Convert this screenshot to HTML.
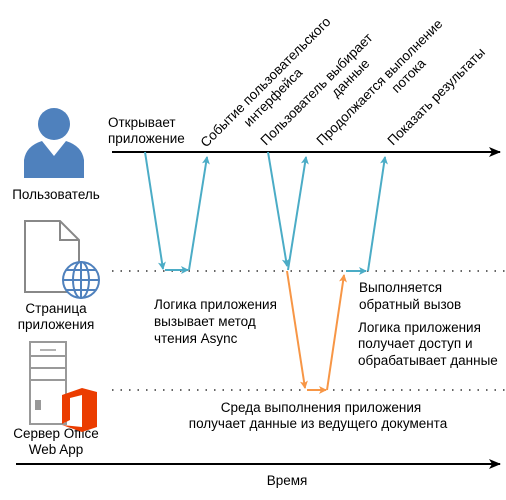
<!DOCTYPE html>
<html><head><meta charset="utf-8"><style>
body{margin:0;background:#fff}
svg{display:block}
text{font-family:"Liberation Sans","DejaVu Sans",sans-serif;font-size:13.5px;fill:#000}
</style></head><body>
<svg width="506" height="500" viewBox="0 0 506 500">
<defs>
<marker id="ab" markerWidth="8" markerHeight="8" refX="7" refY="4" orient="auto" markerUnits="userSpaceOnUse"><path d="M0,0 L8,4 L0,8 L2,4z" fill="#4bacc6"/></marker>
<marker id="ao" markerWidth="8" markerHeight="8" refX="7" refY="4" orient="auto" markerUnits="userSpaceOnUse"><path d="M0,0 L8,4 L0,8 L2,4z" fill="#f79646"/></marker>
<marker id="ak" markerWidth="12" markerHeight="10" refX="11" refY="5" orient="auto" markerUnits="userSpaceOnUse"><path d="M0,0 L12,5 L0,10 L3,5z" fill="#000"/></marker>
</defs>
<line x1="112" y1="152" x2="500" y2="152" stroke="#000" stroke-width="2" marker-end="url(#ak)"/>
<line x1="16" y1="464" x2="500" y2="464" stroke="#000" stroke-width="2" marker-end="url(#ak)"/>
<line x1="112" y1="271" x2="506" y2="271" stroke="#333" stroke-width="1.5" stroke-dasharray="1.5,7"/>
<line x1="112" y1="390" x2="506" y2="390" stroke="#333" stroke-width="1.5" stroke-dasharray="1.5,7"/>
<g stroke="#4bacc6" stroke-width="2" fill="none">
<line x1="145" y1="152" x2="163" y2="269" marker-end="url(#ab)"/>
<line x1="165" y1="270" x2="188" y2="270" marker-end="url(#ab)"/>
<line x1="189" y1="270" x2="207" y2="157" marker-end="url(#ab)"/>
<line x1="268" y1="152" x2="287" y2="266" marker-end="url(#ab)"/>
<line x1="288" y1="270" x2="306" y2="157" marker-end="url(#ab)"/>
<line x1="346" y1="271" x2="366" y2="271" marker-end="url(#ab)"/>
<line x1="368" y1="271" x2="385" y2="157" marker-end="url(#ab)"/>
</g>
<g stroke="#f79646" stroke-width="2" fill="none">
<line x1="287" y1="271" x2="305" y2="388" marker-end="url(#ao)"/>
<line x1="307" y1="390" x2="326" y2="390" marker-end="url(#ao)"/>
<line x1="327" y1="390" x2="344" y2="275" marker-end="url(#ao)"/>
</g>
<text x="108" y="127">Открывает</text>
<text x="108" y="143">приложение</text>
<g transform="translate(206,148) rotate(-45)"><text x="0" y="0">Событие пользовательского</text><text x="45" y="16">интерфейса</text></g>
<g transform="translate(266,146) rotate(-45)"><text x="0" y="0">Пользователь выбирает</text><text x="84" y="16">данные</text></g>
<g transform="translate(322,146) rotate(-45)"><text x="0" y="0">Продолжается выполнение</text><text x="90" y="16">потока</text></g>
<g transform="translate(393,146) rotate(-45)"><text x="0" y="0">Показать результаты</text></g>
<text x="154" y="309">Логика приложения</text>
<text x="154" y="326">вызывает метод</text>
<text x="154" y="343">чтения Async</text>
<text x="359" y="292">Выполняется</text>
<text x="359" y="309">обратный вызов</text>
<text x="358" y="332">Логика приложения</text>
<text x="358" y="348">получает доступ и</text>
<text x="358" y="365">обрабатывает данные</text>
<text x="321" y="412" text-anchor="middle">Среда выполнения приложения</text>
<text x="318" y="428" text-anchor="middle">получает данные из ведущего документа</text>
<text x="287" y="485" text-anchor="middle">Время</text>
<text x="56" y="199" text-anchor="middle">Пользователь</text>
<text x="56" y="313" text-anchor="middle">Страница</text>
<text x="56" y="329" text-anchor="middle">приложения</text>
<text x="56" y="438" text-anchor="middle">Сервер Office</text>
<text x="56" y="454" text-anchor="middle">Web App</text>
<g fill="#4f81bd">
<circle cx="54" cy="124" r="16"/>
<path d="M24,178 L24,160 Q26,146 42,141 L54,156 L66,141 Q82,146 84,160 L84,178 Z"/>
</g>
<path d="M44,141 L54,154 L64,141" stroke="#fff" stroke-width="1.5" fill="none"/>
<path d="M25,221 L60,221 L79,240 L79,292 L25,292 Z" fill="#fff" stroke="#888" stroke-width="2"/>
<path d="M60,221 L60,240 L79,240" fill="none" stroke="#888" stroke-width="2"/>
<g stroke="#4f81bd" stroke-width="2" fill="#fff">
<circle cx="81" cy="280" r="18"/>
<ellipse cx="81" cy="280" rx="8" ry="18" fill="none"/>
<line x1="63" y1="280" x2="99" y2="280"/>
<line x1="81" y1="262" x2="81" y2="298"/>
<path d="M66,270 H96 M66,290 H96" fill="none"/>
</g>
<rect x="30" y="342" width="36" height="82" fill="#fff" stroke="#999" stroke-width="2"/>
<line x1="30" y1="356" x2="66" y2="356" stroke="#999" stroke-width="2"/>
<line x1="40" y1="350" x2="56" y2="350" stroke="#999" stroke-width="1.5"/>
<line x1="30" y1="368" x2="66" y2="368" stroke="#999" stroke-width="2"/>
<line x1="30" y1="380" x2="66" y2="380" stroke="#999" stroke-width="2"/>
<rect x="35" y="400" width="6" height="10" fill="#999"/>
<path d="M62,395 L82,388 L97,392 L97,427 L82,432 L62,425 L82,427 L82,395 L70,398 L70,420 L62,424 Z" fill="#eb3c00"/>
</svg>
</body></html>
